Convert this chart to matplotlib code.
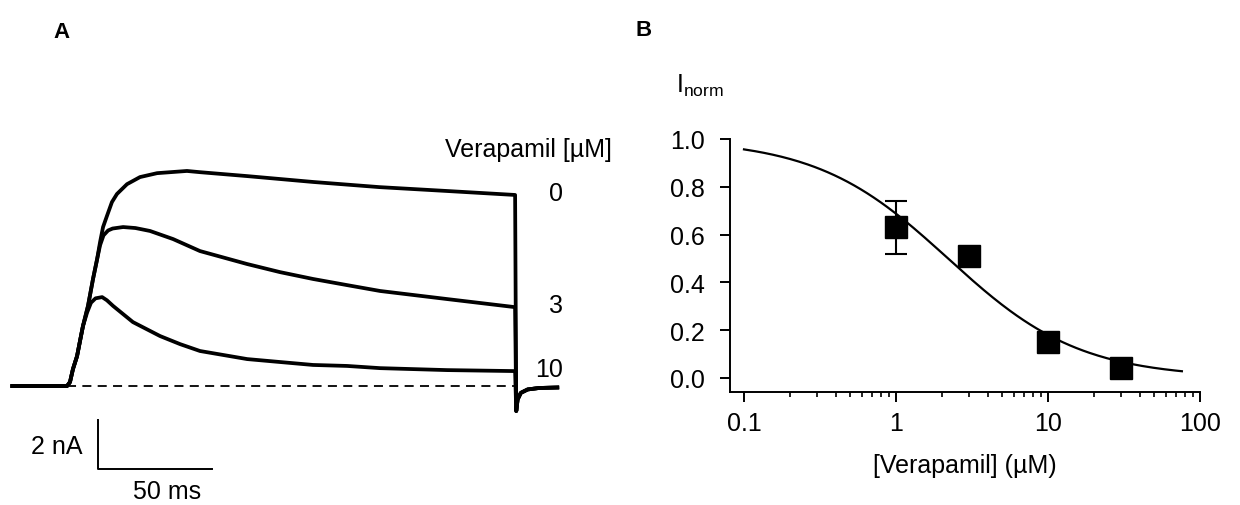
import numpy as np
import matplotlib

matplotlib.use("Agg")
import matplotlib.pyplot as plt
from matplotlib.ticker import FixedLocator, FormatStrFormatter

plt.rcParams["font.family"] = ["Liberation Sans", "DejaVu Sans"]
plt.rcParams["mathtext.default"] = "regular"

# Panel A: current traces (time in ms, current in nA)
t_0 = [1, 25, 26.3, 27.6, 29.4, 30.7, 32.0, 34.2, 36.4, 38.2, 39.5, 40.8, 42.5, 44.7, 46.9, 51.3, 57, 64.5,
       77.6, 83.3, 104, 133, 162, 192, 221.5]
i_0 = [0, 0, 0.16, 0.69, 1.22, 1.84, 2.45, 3.27, 4.37, 5.18, 5.88, 6.49, 6.94, 7.51, 7.84, 8.24, 8.53, 8.69,
       8.78, 8.73, 8.57, 8.33, 8.12, 7.96, 7.80]

t_3 = [1, 25, 26.3, 27.6, 29.4, 30.7, 32.0, 34.2, 36.4, 38.2, 39.5, 41, 43, 45, 49.6, 55, 61.4, 71.5, 83.3,
       104, 118.4, 132.9, 147.8, 162.3, 191.7, 221.5]
i_3 = [0, 0, 0.16, 0.69, 1.22, 1.84, 2.45, 3.27, 4.37, 5.18, 5.75, 6.15, 6.35, 6.43, 6.49, 6.45, 6.33, 6.0, 5.51,
       4.98, 4.65, 4.37, 4.12, 3.88, 3.55, 3.22]

t_10 = [1, 25, 26.3, 27.6, 29.4, 30.7, 32.0, 33.8, 35.5, 37.5, 40.4, 42.5, 45.2, 53.9, 65.8, 74.6, 83.3, 104,
        118.4, 132.9, 147.8, 162.3, 191.7, 221.5]
i_10 = [0, 0, 0.16, 0.69, 1.22, 1.84, 2.45, 3.0, 3.4, 3.58, 3.63, 3.5, 3.27, 2.61, 2.04, 1.71, 1.43, 1.10,
        0.98, 0.86, 0.82, 0.73, 0.65, 0.61]

# tail current after the end of the pulse (same for all traces)
tail_t = [222, 222.6, 224, 227, 232, 240]
tail_i = [-1.02, -0.55, -0.28, -0.14, -0.08, -0.06]

trace_labels = ["0", "3", "10"]
pulse_start = 25
pulse_end = 222

# Panel B: concentration-response
conc = [1, 3, 10, 30]
inorm = [0.63, 0.51, 0.151, 0.042]
inorm_err = [0.11, 0, 0, 0]
ic50 = 2.2
hill = 1.0
fit_range = (0.1, 76)

FS = 18

fig = plt.figure(figsize=(12.4, 5.06), dpi=100)

# ---- panel A ----
ax1 = fig.add_axes([0, 0, 0.5, 1])
ax1.set_xlim(-4.39, 267.5)
ax1.set_ylim(-4.857, 15.8)
ax1.axis("off")

traces = [(t_0, i_0), (t_3, i_3), (t_10, i_10)]
for (t, cur), lab in zip(traces, trace_labels):
    ax1.plot(t + tail_t, cur + tail_i, color="black", lw=2.7, solid_joinstyle="round")
    ax1.text(242.5, cur[-1] + 0.1, lab, ha="right", va="center", fontsize=FS)

ax1.plot([pulse_start, pulse_end], [0, 0], color="black", lw=1.3, dashes=(5, 3.5))
ax1.text(264, 9.67, "Verapamil [µM]", ha="right", va="center", fontsize=FS)

# scale bars
sb_t, sb_i = 38.6, -3.39
ax1.plot([sb_t, sb_t, sb_t + 50], [sb_i + 2, sb_i, sb_i], color="black", lw=1.4)
ax1.text(31.8, sb_i + 0.94, "2 nA", ha="right", va="center", fontsize=FS)
ax1.text(68.9, -4.3, "50 ms", ha="center", va="center", fontsize=FS)

fig.text(62 / 1240, 1 - 32 / 506, "A", fontsize=16, fontweight="bold", ha="center", va="center")
fig.text(644 / 1240, 1 - 30 / 506, "B", fontsize=16, fontweight="bold", ha="center", va="center")

# ---- panel B ----
ax2 = fig.add_axes([730 / 1240, 1 - 393 / 506, 470 / 1240, 253 / 506])
x_fit = np.logspace(np.log10(fit_range[0]), np.log10(fit_range[1]), 200)
y_fit = 1 / (1 + (x_fit / ic50) ** hill)
ax2.plot(x_fit, y_fit, color="black", lw=1.6, clip_on=False)
ax2.errorbar(conc, inorm, yerr=inorm_err, fmt="s", color="black", ms=16, capsize=8,
             elinewidth=1.5, capthick=1.5, clip_on=False)

ax2.set_xscale("log")
ax2.set_xlim(0.0809, 100)
ax2.set_ylim(-0.0588, 1.0)
ax2.xaxis.set_major_locator(FixedLocator([0.1, 1, 10, 100]))
ax2.set_xticklabels(["0.1", "1", "10", "100"])
minor = [m * d for d in [0.1, 1, 10] for m in range(2, 10)]
ax2.xaxis.set_minor_locator(FixedLocator(minor))
ax2.set_yticks([0, 0.2, 0.4, 0.6, 0.8, 1.0])
ax2.yaxis.set_major_formatter(FormatStrFormatter("%.1f"))

for s in ["top", "right"]:
    ax2.spines[s].set_visible(False)
for s in ["left", "bottom"]:
    ax2.spines[s].set_linewidth(1.4)
ax2.tick_params(axis="both", which="major", direction="out", length=7, width=1.4, labelsize=FS)
ax2.tick_params(axis="y", pad=11)
ax2.tick_params(axis="x", pad=7)
ax2.tick_params(axis="x", which="minor", direction="out", length=3.5, width=1.2)
ax2.set_xlabel("[Verapamil] (µM)", fontsize=FS, labelpad=13)

fig.text(676 / 1240, 1 - 86 / 506, r"I$_{norm}$", fontsize=FS, ha="left", va="center")

fig.savefig("out.png", dpi=100)
